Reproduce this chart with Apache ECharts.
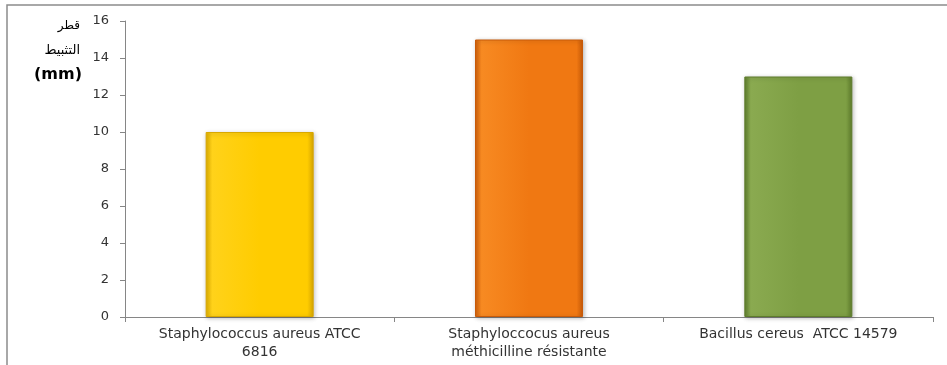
<!DOCTYPE html>
<html>
<head>
<meta charset="utf-8">
<script src="https://cdn.jsdelivr.net/npm/echarts@6/dist/echarts.min.js"></script>
<style>
  html, body { margin: 0; padding: 0; background: #fff; }
  #chart { width: 947px; height: 365px; }
</style>
</head>
<body>
<div id="chart"></div>
<script>
// Inhibition zone diameters (mm) per strain
const categories = [
  'Staphylococcus aureus ATCC\n6816',
  'Staphyloccocus aureus\nméthicilline résistante',
  'Bacillus cereus  ATCC 14579'
];
const diameters = [10, 15, 13];
const barColors = [
  ['#E0B000', '#FFD21A', '#FFCC00', '#D9A800'],
  ['#D0600A', '#F78A22', '#F07812', '#C85A08'],
  ['#5F7F2E', '#8AAA50', '#7E9F44', '#5E7D2C']
];
const yTicks = { min: 0, max: 16, interval: 2 };

function barFill(c) {
  return new echarts.graphic.LinearGradient(0, 0, 1, 0, [
    { offset: 0, color: c[0] },
    { offset: 0.06, color: c[1] },
    { offset: 0.5, color: c[2] },
    { offset: 0.94, color: c[2] },
    { offset: 1, color: c[3] }
  ]);
}

const chart = echarts.init(document.getElementById('chart'), null, { renderer: 'canvas' });

chart.setOption({
  animation: false,
  backgroundColor: '#fff',
  grid: { left: 125, right: 14, top: 21, bottom: 48, containLabel: false },
  graphic: [
    {
      type: 'polyline',
      shape: { points: [[7, 370], [7, 5], [950, 5]] },
      style: { stroke: '#8c8c8c', lineWidth: 1.5, fill: null },
      silent: true
    },
    {
      type: 'text',
      style: {
        x: 80, y: 26, text: 'قطر', align: 'right', verticalAlign: 'middle',
        font: '12px "DejaVu Sans"', fill: '#000'
      }
    },
    {
      type: 'text',
      style: {
        x: 80, y: 51, text: 'التثبيط', align: 'right', verticalAlign: 'middle',
        font: '13px "DejaVu Sans"', fill: '#000'
      }
    },
    {
      type: 'text',
      style: {
        x: 58, y: 75, text: '(mm)', align: 'center', verticalAlign: 'middle',
        font: 'bold 16px "DejaVu Sans"', fill: '#000'
      }
    }
  ],
  xAxis: {
    type: 'category',
    data: categories,
    axisLine: { lineStyle: { color: '#868686', width: 1 } },
    axisTick: { show: true, length: 5, alignWithLabel: false, lineStyle: { color: '#868686' } },
    axisLabel: {
      color: '#333', fontSize: 14, fontFamily: '"DejaVu Sans", sans-serif',
      lineHeight: 18, margin: 8, interval: 0
    },
    splitLine: { show: false }
  },
  yAxis: {
    type: 'value',
    min: yTicks.min, max: yTicks.max, interval: yTicks.interval,
    axisLine: { show: true, lineStyle: { color: '#868686', width: 1 } },
    axisTick: { show: true, length: 5, lineStyle: { color: '#868686' } },
    axisLabel: {
      color: '#333', fontSize: 13, fontFamily: '"DejaVu Sans", sans-serif', margin: 16
    },
    splitLine: { show: false }
  },
  series: [{
    type: 'bar',
    barWidth: 108,
    data: diameters.map((v, i) => ({
      value: v,
      itemStyle: {
        color: barFill(barColors[i]),
        borderColor: barColors[i][3],
        borderWidth: 1,
        shadowColor: 'rgba(0,0,0,0.25)',
        shadowBlur: 4,
        shadowOffsetX: 1,
        shadowOffsetY: 1
      }
    }))
  }]
});
</script>
</body>
</html>
